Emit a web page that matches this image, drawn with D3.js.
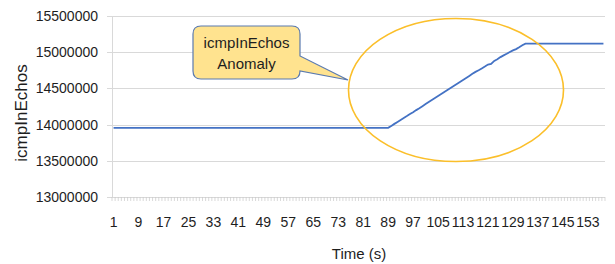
<!DOCTYPE html>
<html>
<head>
<meta charset="utf-8">
<script src="https://cdn.jsdelivr.net/npm/d3@7"></script>
<style>
  body { margin: 0; background: #fff; }
  svg text { font-family: "Liberation Sans", Arial, sans-serif; fill: #1e1e1e; }
</style>
</head>
<body>
<div id="chart"></div>
<script>
// time index (seconds), one sample per second
const times = d3.range(1, 159);
const tickLabels = [1, 9, 17, 25, 33, 41, 49, 57, 65, 73, 81, 89, 97, 105, 113, 121, 129, 137, 145, 153];
const yTicks = [13000000, 13500000, 14000000, 14500000, 15000000, 15500000];

// icmpInEchos counter
const echos = [
  13955000, 13955000, 13955000, 13955000, 13955000, 13955000, 13955000, 13955000, 13955000, 13955000,
  13955000, 13955000, 13955000, 13955000, 13955000, 13955000, 13955000, 13955000, 13955000, 13955000,
  13955000, 13955000, 13955000, 13955000, 13955000, 13955000, 13955000, 13955000, 13955000, 13955000,
  13955000, 13955000, 13955000, 13955000, 13955000, 13955000, 13955000, 13955000, 13955000, 13955000,
  13955000, 13955000, 13955000, 13955000, 13955000, 13955000, 13955000, 13955000, 13955000, 13955000,
  13955000, 13955000, 13955000, 13955000, 13955000, 13955000, 13955000, 13955000, 13955000, 13955000,
  13955000, 13955000, 13955000, 13955000, 13955000, 13955000, 13955000, 13955000, 13955000, 13955000,
  13955000, 13955000, 13955000, 13955000, 13955000, 13955000, 13955000, 13955000, 13955000, 13955000,
  13955000, 13955000, 13955000, 13955000, 13955000, 13955000, 13955000, 13955000, 13955000,
  13982000, 14010000, 14037000, 14064000, 14092000, 14118000, 14146000, 14171000, 14200000, 14226000,
  14254000, 14283000, 14312000, 14340000, 14367000, 14394000, 14422000, 14451000, 14478000, 14505000,
  14533000, 14561000, 14589000, 14616000, 14644000, 14672000, 14701000, 14728000, 14751000, 14776000,
  14802000, 14830000, 14838000, 14880000, 14902000, 14932000, 14956000, 14978000, 15002000, 15025000,
  15043000, 15068000, 15095000, 15118000,
  15118000, 15118000, 15118000, 15118000, 15118000, 15118000, 15118000, 15118000, 15118000, 15118000,
  15118000, 15118000, 15118000, 15118000, 15118000, 15118000, 15118000, 15118000, 15118000, 15118000,
  15118000, 15118000, 15118000, 15118000, 15118000
];

const width = 615, height = 264;
const margin = {left: 112, right: 10, top: 16, bottom: 67};

const svg = d3.select('#chart')
    .append('svg')
    .attr('width', width)
    .attr('height', height);

const x = d3.scaleBand()
    .domain(times)
    .range([margin.left, width - margin.right])
    .padding(0);

const y = d3.scaleLinear()
    .domain([13000000, 15500000])
    .range([height - margin.bottom, margin.top]);

//gridlines
svg.append('g')
    .selectAll('line')
    .data(yTicks)
    .enter()
    .append('line')
    .attr('x1', margin.left - 5)
    .attr('x2', width - margin.right)
    .attr('y1', d => Math.round(y(d)) + 0.5)
    .attr('y2', d => Math.round(y(d)) + 0.5)
    .style('stroke', '#d9d9d9')
    .style('stroke-width', 1.2);

//y axis line
svg.append('line')
    .attr('x1', margin.left + 0.5)
    .attr('x2', margin.left + 0.5)
    .attr('y1', margin.top)
    .attr('y2', y(13000000))
    .style('stroke', '#d9d9d9');

//y labels
svg.append('g')
    .selectAll('text')
    .data(yTicks)
    .enter()
    .append('text')
    .text(d => d)
    .attr('x', 98)
    .attr('y', d => y(d) + 5)
    .attr('text-anchor', 'end')
    .style('font-size', '14px');

//category tick marks below the axis
svg.append('g')
    .selectAll('line')
    .data(times.concat([null]))
    .enter()
    .append('line')
    .attr('x1', d => d === null ? width - margin.right : x(d))
    .attr('x2', d => d === null ? width - margin.right : x(d))
    .attr('y1', y(13000000))
    .attr('y2', y(13000000) + 4)
    .style('stroke', '#c8c8c8')
    .style('stroke-width', 0.7);

//x labels
svg.append('g')
    .selectAll('text')
    .data(tickLabels)
    .enter()
    .append('text')
    .text(d => d)
    .attr('x', d => x(d) + x.bandwidth() / 2)
    .attr('y', 227)
    .attr('text-anchor', 'middle')
    .style('font-size', '14px');

//axis titles
svg.append('text')
    .text('Time (s)')
    .attr('x', 359)
    .attr('y', 259)
    .attr('text-anchor', 'middle')
    .style('font-size', '15px');

svg.append('text')
    .text('icmpInEchos')
    .attr('transform', 'translate(27,113) rotate(-90)')
    .attr('text-anchor', 'middle')
    .style('font-size', '17px');

//series line
const line = d3.line()
    .x((d, i) => x(times[i]) + x.bandwidth() / 2)
    .y(d => y(d));

svg.append('path')
    .datum(echos)
    .attr('d', line)
    .style('fill', 'none')
    .style('stroke', '#4472c4')
    .style('stroke-width', 1.8);

//anomaly ellipse
svg.append('ellipse')
    .attr('cx', 456)
    .attr('cy', 90)
    .attr('rx', 107.5)
    .attr('ry', 71.5)
    .style('fill', 'none')
    .style('stroke', '#fbbf2a')
    .style('stroke-width', 1.6);

//callout
const g = svg.append('g');
g.append('path')
    .attr('d', 'M193,34 Q193,26 201,26 L292,26 Q300,26 300,34 L300,56 L348,80 L300,71 Q300,79 292,79 L201,79 Q193,79 193,71 Z')
    .style('fill', '#ffe38f')
    .style('stroke', '#5a7ab0')
    .style('stroke-width', 1.2);

g.append('text')
    .text('icmpInEchos')
    .attr('x', 246.5)
    .attr('y', 48)
    .attr('text-anchor', 'middle')
    .style('font-size', '15px')
    .style('fill', '#1e1e1e');

g.append('text')
    .text('Anomaly')
    .attr('x', 246.5)
    .attr('y', 69)
    .attr('text-anchor', 'middle')
    .style('font-size', '15px')
    .style('fill', '#1e1e1e');
</script>
</body>
</html>
